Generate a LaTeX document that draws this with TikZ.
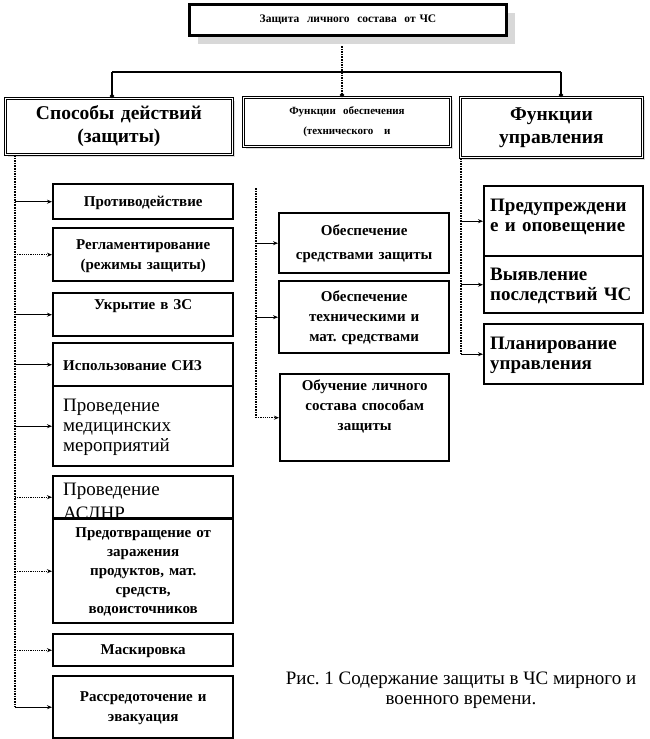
\documentclass[tikz,border=0pt]{standalone}
\usepackage{fontspec}
\setmainfont{Liberation Serif}
\usetikzlibrary{arrows.meta,shadows,positioning}
\hyphenpenalty=10000
\frenchspacing

\begin{document}
\begin{tikzpicture}[
    x=1pt, y=-1pt,
    box/.style={draw, anchor=north west, fill=white, inner xsep=4pt, inner ysep=4pt},
    headbox/.style={box, double, double distance=1.4pt, line width=0.9pt, align=center,
        drop shadow={shadow xshift=3pt, shadow yshift=-3pt, fill=gray!55}},
    subbox/.style={box, line width=2.4pt, text width=172pt, align=center, text height=12pt,
        font=\fontsize{15}{20}\selectfont\bfseries},
    wordbox/.style={box, line width=2.4pt, inner xsep=10pt, text width=160pt, align=left, text height=14pt,
        font=\fontsize{19}{20}\selectfont},
    rightbox/.style={box, line width=2.4pt, inner xsep=6pt, text width=147pt, align=left, text height=14pt,
        font=\fontsize{19}{20}\selectfont\bfseries},
    arr/.style={-{Stealth[length=5pt,width=4pt]}, line width=1.2pt},
    darr/.style={arr, densely dotted},
    trunk/.style={line width=1.6pt, densely dotted},
    bus/.style={line width=1.6pt},
    tip/.style={-{Circle[length=4pt]}},
]
    \useasboundingbox (0,0) rectangle (649,739);

    % Row 1: title
    \node[box, line width=3pt, text width=309pt, minimum height=31pt, align=center,
        font=\fontsize{11.5}{12}\selectfont\bfseries,
        drop shadow={shadow xshift=8pt, shadow yshift=-8pt, fill=gray!60}]
        (head) at (188,3) {Защита\ \ личного\ \ состава\ \ от\ ЧС};

    % Row 2: three headings
    \node[headbox, text width=219pt, minimum height=56pt, font=\fontsize{19.5}{23}\selectfont\bfseries]
        (sposob) at (5,98) {Способы действий\\(защиты)};
    \node[headbox, text width=199pt, minimum height=49pt, font=\fontsize{11}{20}\selectfont\bfseries]
        (obesp) at (243,97) {Функции\ \ обеспечения\\(технического\ \ \ и};
    \node[headbox, text width=174pt, minimum height=60pt, font=\fontsize{19.5}{23}\selectfont\bfseries]
        (upravl) at (460,97) {Функции\\управления};

    % Left column
    \node[subbox, minimum height=35pt] (protiv) at (52,183) {Противодействие};
    \node[subbox, minimum height=53pt] (reglam) at (52,227) {Регламентирование\\(режимы защиты)};
    \node[subbox, text depth=23pt] (ukr) at (52,292) {Укрытие в ЗС};
    \node[subbox, minimum height=43pt, align=left, inner xsep=10pt, text width=160pt] (siz) at (52,342) {Использование СИЗ};
    \node[wordbox, minimum height=80pt] (med) at (52,385) {Проведение\\медицинских\\мероприятий};
    \node[wordbox, text height=15pt, text depth=19pt, font=\fontsize{19}{24}\selectfont] (asdnr) at (52,475) {Проведение\\АСДНР};
    \node[subbox, minimum height=104pt, font=\fontsize{15}{19}\selectfont\bfseries]
        (predotvr) at (52,518) {Предотвращение от\\заражения\\продуктов, мат.\\средств,\\водоисточников};
    \node[subbox, minimum height=32pt] (mask) at (52,633) {Маскировка};
    \node[subbox, minimum height=62pt] (evak) at (52,675) {Рассредоточение и\\эвакуация};

    % Middle column
    \node[subbox, text width=162pt, minimum height=60pt, font=\fontsize{15}{24}\selectfont\bfseries]
        (sredstv) at (278,212) {Обеспечение\\средствами защиты};
    \node[subbox, text width=162pt, minimum height=72pt] (tehn) at (278,280) {Обеспечение\\техническими и\\мат. средствами};
    \node[subbox, text width=161pt, text depth=67pt] (obuch) at (279,373) {Обучение личного\\состава способам\\защиты};

    % Right column
    \node[rightbox, text height=21pt, text depth=41pt] (predupr) at (483,185) {Предупреждени\\е и оповещение};
    \node[rightbox, minimum height=57pt] (vyyav) at (483,255) {Выявление\\последствий ЧС};
    \node[rightbox, minimum height=60pt] (plan) at (483,323) {Планирование\\управления};

    % Caption
    \node[align=center, font=\fontsize{19}{20}\selectfont] (ris) at (461,690)
        {Рис. 1 Содержание защиты в ЧС мирного и\\военного времени.};

    % Connectors from the title
    \coordinate (busl) at (112,72);
    \coordinate (busr) at (561,72);
    \draw[bus] (busl) -- (busr);
    \draw[bus, tip] (busl) -- (busl |- sposob.north);
    \draw[bus, tip] (busr) -- (busr |- upravl.north);
    \draw[trunk, tip] ([xshift=-6pt, yshift=-9pt]head.south) -- ([xshift=-6pt]head.south |- obesp.north);

    % Left trunk
    \coordinate (ltrunk) at (15,0);
    \draw[trunk] (sposob.south -| ltrunk) -- (ltrunk |- evak.west);
    \draw[arr]  (ltrunk |- protiv.west) -- (protiv.west);
    \draw[darr] (ltrunk |- reglam.west) -- (reglam.west);
    \draw[arr]  (ltrunk |- ukr.west) -- (ukr.west);
    \draw[arr]  (ltrunk |- siz.west) -- (siz.west);
    \draw[arr]  (ltrunk |- med.west) -- (med.west);
    \draw[darr] (ltrunk |- asdnr.west) -- (asdnr.west);
    \draw[darr] (ltrunk |- predotvr.west) -- (predotvr.west);
    \draw[darr] (ltrunk |- mask.west) -- (mask.west);
    \draw[arr]  (ltrunk |- evak.west) -- (evak.west);

    % Middle trunk
    \coordinate (mtrunk) at (256,188);
    \draw[trunk] (mtrunk) -- (mtrunk |- obuch.west);
    \draw[arr]  (mtrunk |- sredstv.west) -- (sredstv.west);
    \draw[arr]  (mtrunk |- tehn.west) -- (tehn.west);
    \draw[darr] (mtrunk |- obuch.west) -- (obuch.west);

    % Right trunk
    \coordinate (rtrunk) at (461,0);
    \draw[trunk] (upravl.south -| rtrunk) -- (rtrunk |- plan.west);
    \draw[arr] (rtrunk |- predupr.west) -- (predupr.west);
    \draw[arr] (rtrunk |- vyyav.west) -- (vyyav.west);
    \draw[arr] (rtrunk |- plan.west) -- (plan.west);
\end{tikzpicture}
\end{document}
